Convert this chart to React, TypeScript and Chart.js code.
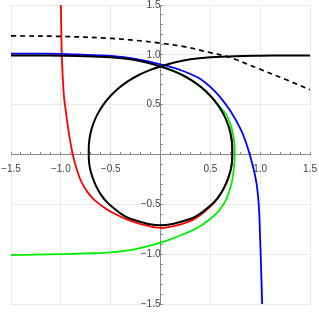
import React, { useEffect, useRef } from 'react';
import { Chart, registerables } from 'chart.js';

Chart.register(...registerables);

// Axis ranges and labelled (major) tick values
const axisMin = -1.5;
const axisMax = 1.5;
const minorStep = 0.1;
const majorTickValues = [-1.5, -1.0, -0.5, 0.5, 1.0, 1.5];

// Black solid curve: left branch -> loop (clockwise) -> right branch
const blackX = [
  -1.5, -1.25, -1.0, -0.75, -0.5, -0.3, -0.15, 0,
  0.114, 0.223, 0.325, 0.418, 0.5, 0.571, 0.629, 0.673, 0.703, 0.718, 0.72,
  0.717, 0.705, 0.68, 0.645, 0.6, 0.545, 0.48, 0.41, 0.33, 0.24, 0.12, 0,
  -0.12, -0.24, -0.33, -0.41, -0.48, -0.545, -0.6, -0.645, -0.68, -0.705, -0.717,
  -0.72, -0.718, -0.703, -0.673, -0.629, -0.571, -0.5, -0.418, -0.325, -0.223, -0.114, 0,
  0.15, 0.3, 0.5, 0.75, 1.0, 1.25, 1.5,
];
const blackY = [
  0.994, 0.993, 0.991, 0.987, 0.975, 0.955, 0.925, 0.883,
  0.844, 0.795, 0.736, 0.667, 0.589, 0.503, 0.41, 0.312, 0.21, 0.106, 0,
  -0.075, -0.15, -0.235, -0.32, -0.4, -0.47, -0.53, -0.585, -0.633, -0.665, -0.697, -0.71,
  -0.697, -0.665, -0.633, -0.585, -0.53, -0.47, -0.4, -0.32, -0.235, -0.15, -0.075,
  0, 0.106, 0.21, 0.312, 0.41, 0.503, 0.589, 0.667, 0.736, 0.795, 0.844, 0.883,
  0.925, 0.955, 0.975, 0.987, 0.991, 0.993, 0.994,
];

// Blue curve
const blueX = [
  -1.5, -1.25, -1.0, -0.75, -0.5, -0.25, 0, 0.1, 0.2, 0.3, 0.4, 0.5, 0.6,
  0.7, 0.8, 0.85, 0.9, 0.94, 0.965, 0.98, 0.99, 1.0, 1.01, 1.02,
];
const blueY = [
  1.013, 1.012, 1.01, 1.0, 0.99, 0.96, 0.905, 0.88, 0.848, 0.808, 0.758, 0.678, 0.573,
  0.438, 0.263, 0.143, -0.017, -0.17, -0.3, -0.43, -0.58, -0.85, -1.15, -1.5,
];

// Red curve
const redX = [
  -1.008, -1.0, -0.99, -0.97, -0.945, -0.92, -0.88,
  -0.84, -0.79, -0.73, -0.67, -0.54, -0.44, -0.34, -0.17, 0,
  0.12, 0.24, 0.33, 0.41, 0.48, 0.545, 0.6, 0.645, 0.68, 0.705, 0.717, 0.72, 0.718, 0.703,
];
const redY = [
  1.6, 1.5, 1.0, 0.6, 0.4, 0.22, 0,
  -0.15, -0.283, -0.38, -0.45, -0.55, -0.605, -0.65, -0.705, -0.737,
  -0.722, -0.688, -0.653, -0.601, -0.541, -0.475, -0.4, -0.32, -0.235, -0.15, -0.075, 0, 0.106, 0.21,
];

// Green curve
const greenX = [
  -1.5, -1.25, -1.0, -0.75, -0.5, -0.25, 0,
  0.23, 0.38, 0.495, 0.59, 0.66, 0.71, 0.735, 0.745,
  0.742, 0.728, 0.703, 0.66, 0.573, 0.5, 0.418, 0.325, 0.223, 0.114, 0,
];
const greenY = [
  -1.01, -1.005, -1.0, -0.993, -0.983, -0.95, -0.885,
  -0.8, -0.73, -0.65, -0.56, -0.45, -0.3, -0.15, 0,
  0.1, 0.2, 0.3, 0.4, 0.503, 0.589, 0.667, 0.736, 0.795, 0.844, 0.883,
];

// Black dashed curve
const dashedX = [-1.5, -1.0, -0.5, -0.25, 0, 0.25, 0.5, 0.66, 0.75, 1.0, 1.25, 1.5];
const dashedY = [1.19, 1.185, 1.165, 1.145, 1.117, 1.08, 1.022, 0.985, 0.955, 0.855, 0.755, 0.65];

const toPoints = (xs: number[], ys: number[]) => xs.map((x, i) => ({ x, y: ys[i] }));

const isMajor = (v: number) =>
  majorTickValues.some((m) => Math.abs(m - v) < 1e-6) || Math.abs(v) < 1e-6;

const formatTick = (v: number) => {
  const r = Math.round(v * 10) / 10;
  if (!majorTickValues.some((m) => Math.abs(m - r) < 1e-6)) return '';
  return r.toFixed(1).replace('-', '\u2212');
};

const zeroFit = (s: any) => {
  if (s.isHorizontal()) s.height = 0;
  else s.width = 0;
  s.paddingLeft = 0;
  s.paddingRight = 0;
  s.paddingTop = 0;
  s.paddingBottom = 0;
};

const tickFont = { family: "'Liberation Sans', Arial, sans-serif", size: 10 };
const labelColor = '#444444';
const axisColor = '#8a8a8a';
const gridColor = '#ebebeb';

export default function App() {
  const canvasRef = useRef<HTMLCanvasElement | null>(null);

  useEffect(() => {
    if (!canvasRef.current) return;
    const lineBase = { showLine: true, pointRadius: 0, pointHoverRadius: 0, tension: 0.35, fill: false };
    const chart = new Chart(canvasRef.current, {
      type: 'scatter',
      data: {
        datasets: [
          { ...lineBase, label: 'black', data: toPoints(blackX, blackY), borderColor: '#000000', borderWidth: 2 },
          { ...lineBase, label: 'blue', data: toPoints(blueX, blueY), borderColor: '#0000ff', borderWidth: 1.8 },
          { ...lineBase, label: 'red', data: toPoints(redX, redY), borderColor: '#ff0000', borderWidth: 1.8 },
          { ...lineBase, label: 'green', data: toPoints(greenX, greenY), borderColor: '#00ee00', borderWidth: 1.8 },
          { ...lineBase, label: 'dashed', data: toPoints(dashedX, dashedY), borderColor: '#000000', borderWidth: 1.7, borderDash: [5, 4] },
        ] as any,
      },
      options: {
        animation: false,
        responsive: false,
        devicePixelRatio: 1,
        events: [],
        layout: { padding: { left: 11, right: 9, top: 5, bottom: 9 } },
        plugins: { legend: { display: false }, tooltip: { enabled: false } },
        scales: {
          x: {
            type: 'linear',
            min: axisMin,
            max: axisMax,
            position: { y: 0 } as any,
            afterFit: zeroFit,
            border: { color: axisColor, width: 1 },
            grid: {
              color: (ctx: any) => (isMajor(ctx.tick.value) ? gridColor : 'rgba(0,0,0,0)'),
              tickColor: axisColor,
              tickLength: -3,
              lineWidth: 1,
            },
            ticks: {
              stepSize: minorStep,
              autoSkip: false,
              maxRotation: 0,
              padding: 12,
              color: labelColor,
              font: tickFont,
              callback: (v: any) => formatTick(Number(v)),
            },
          },
          y: {
            type: 'linear',
            min: axisMin,
            max: axisMax,
            position: { x: 0 } as any,
            afterFit: zeroFit,
            border: { color: axisColor, width: 1 },
            grid: {
              color: (ctx: any) => (isMajor(ctx.tick.value) ? gridColor : 'rgba(0,0,0,0)'),
              tickColor: axisColor,
              tickLength: -3,
              lineWidth: 1,
            },
            ticks: {
              stepSize: minorStep,
              autoSkip: false,
              padding: 6,
              color: labelColor,
              font: tickFont,
              callback: (v: any) => formatTick(Number(v)),
            },
          },
        },
      } as any,
    });
    return () => chart.destroy();
  }, []);

  return (
    <div style={{ position: 'fixed', left: 0, top: 0, width: 319, height: 313, background: '#ffffff' }}>
      <canvas ref={canvasRef} width={319} height={313} style={{ display: 'block', width: 319, height: 313 }} />
    </div>
  );
}
